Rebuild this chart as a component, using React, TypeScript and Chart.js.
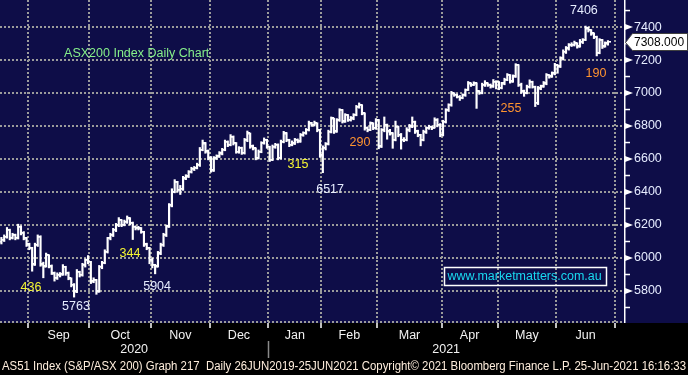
import React, { useEffect, useRef } from 'react';
import { Chart, registerables } from 'chart.js';

Chart.register(...registerables);

// ---- Data: ASX200 daily OHLC, 18 Aug 2020 .. 25 Jun 2021 (trading-day index) ----
const opens = [
  6100, 6112, 6128, 6168, 6122, 6138, 6122, 6188, 6152, 6118,
  6082, 6058, 5962, 6078, 6128, 5962, 5950, 6016, 5950, 5905,
  5879, 5895, 5902, 5946, 5909, 5875, 5839, 5798, 5915, 5899,
  5956, 5986, 5976, 5859, 5865, 5798, 5946, 5970, 6037, 6121,
  6138, 6172, 6198, 6228, 6202, 6218, 6238, 6212, 6188, 6182,
  6178, 6158, 6082, 6058, 5990, 5956, 5950, 6027, 6081, 6138,
  6192, 6318, 6402, 6458, 6415, 6418, 6481, 6495, 6522, 6542,
  6546, 6562, 6657, 6693, 6647, 6603, 6532, 6603, 6617, 6633,
  6657, 6704, 6687, 6734, 6697, 6643, 6667, 6637, 6714, 6754,
  6677, 6663, 6607, 6643, 6697, 6714, 6673, 6596, 6673, 6687,
  6607, 6704, 6754, 6714, 6687, 6693, 6714, 6708, 6744, 6758,
  6778, 6815, 6808, 6815, 6774, 6622, 6667, 6692, 6764, 6844,
  6768, 6834, 6895, 6828, 6865, 6838, 6844, 6869, 6915, 6925,
  6875, 6788, 6778, 6814, 6788, 6834, 6677, 6774, 6808, 6768,
  6754, 6717, 6794, 6748, 6717, 6717, 6774, 6798, 6824, 6768,
  6744, 6717, 6764, 6788, 6794, 6788, 6834, 6808, 6748, 6824,
  6895, 6929, 6996, 6990, 6976, 6970, 6986, 7020, 7057, 7051,
  7057, 7010, 7002, 7047, 7057, 7047, 7041, 7067, 7067, 7031,
  7057, 7081, 7107, 7071, 7101, 7168, 7051, 7010, 7000, 7037,
  7067, 7037, 6940, 7027, 7041, 7057, 7107, 7101, 7118, 7168,
  7162, 7208, 7249, 7269, 7289, 7293, 7299, 7283, 7309, 7323,
  7390, 7380, 7360, 7340, 7243, 7319, 7283, 7299,
];
const highs = [
  6125, 6140, 6185, 6175, 6150, 6145, 6205, 6195, 6160, 6125,
  6090, 6065, 6090, 6140, 6135, 5975, 6030, 6020, 5958, 5915,
  5910, 5912, 5960, 5950, 5915, 5880, 5845, 5930, 5920, 5968,
  5995, 6015, 5980, 5880, 5870, 5955, 5980, 6050, 6125, 6150,
  6180, 6210, 6245, 6232, 6230, 6255, 6245, 6218, 6195, 6192,
  6185, 6162, 6090, 6065, 6000, 5962, 6040, 6090, 6150, 6200,
  6330, 6420, 6475, 6465, 6440, 6495, 6505, 6530, 6550, 6555,
  6575, 6670, 6715, 6700, 6655, 6615, 6615, 6625, 6645, 6665,
  6715, 6710, 6748, 6740, 6700, 6675, 6672, 6725, 6770, 6758,
  6685, 6668, 6655, 6705, 6728, 6720, 6678, 6685, 6695, 6692,
  6715, 6768, 6760, 6720, 6710, 6725, 6722, 6755, 6765, 6785,
  6830, 6822, 6830, 6820, 6780, 6680, 6700, 6775, 6855, 6848,
  6845, 6905, 6900, 6875, 6870, 6858, 6875, 6925, 6940, 6930,
  6880, 6795, 6825, 6820, 6845, 6840, 6785, 6855, 6812, 6780,
  6760, 6830, 6800, 6755, 6730, 6790, 6810, 6855, 6830, 6775,
  6750, 6775, 6795, 6805, 6800, 6850, 6845, 6815, 6835, 6905,
  6935, 7010, 7002, 6995, 6985, 6995, 7025, 7070, 7062, 7068,
  7062, 7015, 7060, 7075, 7062, 7055, 7082, 7075, 7070, 7065,
  7090, 7118, 7112, 7110, 7178, 7172, 7060, 7018, 7048, 7080,
  7072, 7042, 7040, 7048, 7070, 7118, 7112, 7128, 7180, 7172,
  7220, 7262, 7282, 7300, 7305, 7315, 7305, 7325, 7330, 7406,
  7400, 7385, 7365, 7345, 7330, 7325, 7310, 7318,
];
const lows = [
  6085, 6100, 6120, 6110, 6115, 6110, 6115, 6140, 6110, 6070,
  6050, 5920, 5955, 6070, 5950, 5880, 5945, 5940, 5900, 5860,
  5870, 5885, 5895, 5895, 5868, 5825, 5763, 5790, 5885, 5890,
  5945, 5965, 5845, 5850, 5780, 5792, 5935, 5965, 6030, 6110,
  6130, 6160, 6190, 6190, 6195, 6210, 6200, 6112, 6170, 6170,
  6150, 6070, 6050, 5965, 5940, 5904, 5945, 6020, 6070, 6130,
  6185, 6310, 6395, 6400, 6385, 6410, 6475, 6488, 6515, 6530,
  6540, 6555, 6650, 6635, 6595, 6520, 6525, 6598, 6610, 6625,
  6650, 6675, 6680, 6685, 6635, 6635, 6628, 6630, 6705, 6665,
  6655, 6595, 6600, 6638, 6690, 6665, 6585, 6590, 6665, 6595,
  6600, 6698, 6705, 6675, 6680, 6688, 6698, 6702, 6738, 6750,
  6770, 6798, 6800, 6765, 6610, 6517, 6655, 6685, 6758, 6755,
  6762, 6828, 6818, 6822, 6828, 6830, 6838, 6862, 6908, 6868,
  6775, 6765, 6772, 6778, 6780, 6662, 6670, 6765, 6720, 6745,
  6665, 6710, 6735, 6660, 6705, 6710, 6765, 6790, 6755, 6735,
  6680, 6710, 6755, 6780, 6778, 6788, 6795, 6735, 6740, 6818,
  6888, 6920, 6980, 6970, 6955, 6965, 6980, 7015, 7040, 7045,
  6907, 6992, 6995, 7040, 7040, 7030, 7035, 7025, 7020, 7025,
  7050, 7075, 7060, 7065, 7095, 7040, 6998, 6980, 6995, 7030,
  7030, 6918, 6930, 7020, 7035, 7050, 7090, 7095, 7110, 7120,
  7155, 7200, 7240, 7260, 7282, 7285, 7272, 7278, 7300, 7318,
  7370, 7350, 7330, 7225, 7238, 7270, 7278, 7290,
];
const closes = [
  6110, 6130, 6170, 6120, 6140, 6120, 6190, 6150, 6120, 6080,
  6060, 5960, 6080, 6130, 5960, 5948, 6018, 5948, 5907, 5877,
  5897, 5900, 5948, 5907, 5877, 5837, 5796, 5917, 5897, 5958,
  5988, 5978, 5857, 5867, 5796, 5948, 5968, 6039, 6119, 6140,
  6170, 6200, 6230, 6200, 6220, 6240, 6210, 6190, 6180, 6180,
  6160, 6080, 6060, 5988, 5958, 5948, 6029, 6079, 6140, 6190,
  6320, 6400, 6460, 6413, 6420, 6483, 6493, 6524, 6540, 6544,
  6564, 6655, 6695, 6645, 6605, 6530, 6605, 6615, 6635, 6655,
  6706, 6685, 6736, 6695, 6645, 6665, 6635, 6716, 6756, 6675,
  6665, 6605, 6645, 6695, 6716, 6675, 6594, 6675, 6685, 6605,
  6706, 6756, 6716, 6685, 6695, 6716, 6706, 6746, 6756, 6776,
  6817, 6806, 6817, 6776, 6620, 6665, 6690, 6766, 6846, 6766,
  6836, 6897, 6826, 6867, 6836, 6846, 6867, 6917, 6927, 6877,
  6786, 6776, 6816, 6786, 6836, 6675, 6776, 6806, 6766, 6756,
  6715, 6796, 6746, 6715, 6715, 6776, 6796, 6826, 6766, 6746,
  6715, 6766, 6786, 6796, 6786, 6836, 6806, 6746, 6826, 6897,
  6927, 6998, 6988, 6978, 6968, 6988, 7018, 7059, 7049, 7059,
  7008, 7000, 7049, 7059, 7049, 7039, 7069, 7069, 7029, 7059,
  7079, 7109, 7069, 7099, 7170, 7049, 7008, 6998, 7039, 7069,
  7039, 6938, 7029, 7039, 7059, 7109, 7099, 7120, 7170, 7160,
  7210, 7251, 7271, 7291, 7291, 7301, 7281, 7311, 7321, 7392,
  7382, 7362, 7342, 7241, 7321, 7281, 7301, 7308,
];

// first trading-day index of each month: Sep 2020 .. Jul 2021
const monthStartIdx = [10, 32, 54, 75, 96, 115, 135, 158, 178, 199, 220];
const monthLabels = ['Sep', 'Oct', 'Nov', 'Dec', 'Jan', 'Feb', 'Mar', 'Apr', 'May', 'Jun'];
const yearLabels = ['2020', '2021'];
const yearStartIdx = 96; // Jan 2021
const yTickValues = [5700, 5800, 5900, 6000, 6100, 6200, 6300, 6400, 6500, 6600, 6700, 6800, 6900, 7000, 7100, 7200, 7300, 7400, 7500];
const yLabelStep = 200;
const Y_MIN = 5606;
const Y_MAX = 7564;
const X_MIN = -0.5;
const X_MAX = 222.75;

const chartTitle = 'ASX200 Index Daily Chart';
const website = 'www.marketmatters.com.au';
const footer = 'AS51 Index (S&P/ASX 200) Graph 217  Daily 26JUN2019-25JUN2021 Copyright\u00A9 2021 Bloomberg Finance L.P. 25-Jun-2021 16:16:33';

// annotation texts placed in data space (trading-day index, index level)
const annotations = [
  { text: chartTitle, idx: 48.4, value: 7242, color: '#86f08a' },
  { text: '7406', idx: 208.4, value: 7503, color: '#e6ecff' },
  { text: '190', idx: 212.7, value: 7121, color: '#ff9430' },
  { text: '255', idx: 182.3, value: 6909, color: '#ff9430' },
  { text: '290', idx: 128.3, value: 6697, color: '#ff9430' },
  { text: '315', idx: 106.1, value: 6564, color: '#f5f532' },
  { text: '6517', idx: 117.6, value: 6418, color: '#e6ecff' },
  { text: '344', idx: 46.0, value: 6024, color: '#f5f532' },
  { text: '436', idx: 10.6, value: 5818, color: '#f5f532' },
  { text: '5763', idx: 26.7, value: 5703, color: '#e6ecff' },
  { text: '5904', idx: 55.7, value: 5830, color: '#e6ecff' },
];
const websiteAt = { idx: 187.2, value: 5891 };

const NAVY = '#0e0d48';
const GRID = '#9b9b9b';
const FONT = '"Liberation Sans", Arial, Helvetica, sans-serif';
const CLEAR = 'rgba(0,0,0,0)';

export default function App() {
  const ref = useRef<HTMLCanvasElement>(null);

  useEffect(() => {
    document.body.style.margin = '0';
    document.body.style.background = '#000';
    const canvas = ref.current;
    if (!canvas) return;

    const boundaries = monthStartIdx.map((v) => v - 0.5);
    const centers = monthLabels.map((_, k) => (boundaries[k] + boundaries[k + 1]) / 2);
    const boundarySet = new Set(boundaries);
    const centerLabel = new Map<number, string>(centers.map((c, k) => [c, monthLabels[k]]));
    const xTickValues = [...boundaries, ...centers].sort((a, b) => a - b);

    const mkTick = (left: boolean) => {
      const c = document.createElement('canvas');
      c.width = 6;
      c.height = 2;
      const g = c.getContext('2d')!;
      const x0 = left ? 0 : 3;
      g.fillStyle = 'rgba(255,255,255,1)';
      g.fillRect(x0, 0, 3, 1);
      g.fillStyle = 'rgba(255,255,255,0.5)';
      g.fillRect(x0, 1, 3, 1);
      return c;
    };
    const openImg = mkTick(true);
    const closeImg = mkTick(false);

    const overlay = {
      id: 'overlay',
      beforeDraw(chart: any) {
        const { ctx, chartArea, width, height } = chart;
        ctx.save();
        ctx.fillStyle = '#000';
        ctx.fillRect(0, 0, width, height);
        ctx.fillStyle = NAVY;
        ctx.fillRect(0, 0, width, chartArea.bottom);
        ctx.restore();
      },
      afterDraw(chart: any) {
        const { ctx, chartArea: a, scales, width } = chart;
        const xs = scales.x;
        const ys = scales.y;
        ctx.save();
        // dotted bottom edge
        ctx.strokeStyle = GRID;
        ctx.lineWidth = 2;
        ctx.setLineDash([2, 2]);
        ctx.beginPath();
        ctx.moveTo(a.left, a.bottom - 1);
        ctx.lineTo(a.right, a.bottom - 1);
        ctx.stroke();
        ctx.setLineDash([]);
        // right axis line
        ctx.strokeStyle = '#ffffff';
        ctx.lineWidth = 1.5;
        ctx.beginPath();
        ctx.moveTo(a.right + 0.75, 0);
        ctx.lineTo(a.right + 0.75, a.bottom);
        ctx.stroke();
        // y tick marks
        ctx.fillStyle = '#ffffff';
        for (const v of yTickValues) {
          const py = ys.getPixelForValue(v);
          if (v % yLabelStep === 0) {
            ctx.beginPath();
            ctx.moveTo(a.right + 1, py - 3);
            ctx.lineTo(a.right + 9, py);
            ctx.lineTo(a.right + 1, py + 3);
            ctx.closePath();
            ctx.fill();
          } else {
            ctx.beginPath();
            ctx.moveTo(a.right + 1, py);
            ctx.lineTo(a.right + 6, py);
            ctx.stroke();
          }
        }
        // year row
        ctx.font = `12.5px ${FONT}`;
        ctx.textBaseline = 'middle';
        ctx.textAlign = 'center';
        ctx.fillStyle = '#f2f2f2';
        const sepX = xs.getPixelForValue(yearStartIdx - 0.5);
        const y2020 = (xs.getPixelForValue(X_MIN) + sepX) / 2;
        const y2021 = (sepX + xs.getPixelForValue(X_MAX)) / 2;
        ctx.fillText(yearLabels[0], y2020, 350);
        ctx.fillText(yearLabels[1], y2021, 350);
        ctx.strokeStyle = '#8a8a8a';
        ctx.lineWidth = 1.5;
        ctx.beginPath();
        ctx.moveTo(Math.round(sepX) + 0.5, 341);
        ctx.lineTo(Math.round(sepX) + 0.5, 358);
        ctx.stroke();
        // footer
        ctx.textAlign = 'left';
        ctx.fillStyle = '#ffeedd';
        const fw = ctx.measureText(footer).width;
        ctx.save();
        ctx.translate(2, 367);
        ctx.scale(684 / fw, 1);
        ctx.fillText(footer, 0, 0);
        ctx.restore();
        // annotations
        ctx.textAlign = 'center';
        for (const an of annotations) {
          ctx.fillStyle = an.color;
          ctx.fillText(an.text, xs.getPixelForValue(an.idx), ys.getPixelForValue(an.value));
        }
        // website box
        const wx = xs.getPixelForValue(websiteAt.idx);
        const wy = ys.getPixelForValue(websiteAt.value);
        const ww = ctx.measureText(website).width;
        ctx.strokeStyle = '#ffffff';
        ctx.lineWidth = 1.5;
        ctx.strokeRect(Math.round(wx - ww / 2 - 4) + 0.5, Math.round(wy - 9) + 0.5, Math.round(ww + 8), 18);
        ctx.fillStyle = '#19d9f0';
        ctx.fillText(website, wx, wy + 0.5);
        // last price box
        const last = closes[closes.length - 1];
        const py = Math.round(ys.getPixelForValue(last));
        const bx = a.right + 1;
        ctx.fillStyle = '#ffffff';
        ctx.strokeStyle = '#404040';
        ctx.lineWidth = 1;
        ctx.beginPath();
        ctx.moveTo(bx + 0.5, py + 0.5);
        ctx.lineTo(bx + 7.5, py - 8.5);
        ctx.lineTo(width - 0.5, py - 8.5);
        ctx.lineTo(width - 0.5, py + 8.5);
        ctx.lineTo(bx + 7.5, py + 8.5);
        ctx.closePath();
        ctx.fill();
        ctx.stroke();
        ctx.fillStyle = '#000000';
        ctx.textAlign = 'left';
        ctx.font = `12px ${FONT}`;
        ctx.fillText(last.toFixed(3), bx + 9, py + 0.5);
        ctx.restore();
      },
    };

    const rangeData = highs.map((h, i) => ({ x: i, y: [lows[i], h] }));
    const openData = opens.map((o, i) => ({ x: i, y: o }));
    const closeData = closes.map((c, i) => ({ x: i, y: c }));

    const chart = new Chart(canvas, {
      type: 'bar',
      data: {
        datasets: [
          {
            type: 'bar',
            data: rangeData as any,
            backgroundColor: '#ffffff',
            borderWidth: 0,
            barThickness: 1.5,
            grouped: false,
          } as any,
          {
            type: 'line',
            data: openData as any,
            showLine: false,
            pointStyle: openImg as any,
            pointRadius: 2,
            borderWidth: 0,
          } as any,
          {
            type: 'line',
            data: closeData as any,
            showLine: false,
            pointStyle: closeImg as any,
            pointRadius: 2,
            borderWidth: 0,
          } as any,
        ],
      },
      options: {
        responsive: false,
        devicePixelRatio: 1,
        animation: false,
        events: [],
        layout: { autoPadding: false, padding: { left: 0, right: 0, top: 0, bottom: 32 } },
        plugins: {
          legend: { display: false },
          tooltip: { enabled: false },
          title: { display: false },
        },
        scales: {
          x: {
            type: 'linear',
            min: X_MIN,
            max: X_MAX,
            offset: false,
            afterBuildTicks: (s: any) => {
              s.ticks = xTickValues.map((v) => ({ value: v }));
            },
            afterFit: (s: any) => {
              s.height = 20;
              s.paddingLeft = 0;
              s.paddingRight = 0;
            },
            grid: {
              offset: false,
              color: (c: any) => (c.tick && boundarySet.has(c.tick.value) ? GRID : CLEAR),
              lineWidth: 2,
              tickColor: (c: any) => (c.tick && boundarySet.has(c.tick.value) ? '#ffffff' : CLEAR),
              tickLength: 5,
              tickWidth: 1.5,
            },
            border: { display: false, dash: [2, 2] },
            ticks: {
              autoSkip: false,
              maxRotation: 0,
              minRotation: 0,
              padding: 0,
              color: '#f2f2f2',
              font: { size: 12.5, family: FONT },
              callback: (v: any) => centerLabel.get(v) ?? '',
            },
          },
          y: {
            type: 'linear',
            position: 'right',
            min: Y_MIN,
            max: Y_MAX,
            afterBuildTicks: (s: any) => {
              s.ticks = yTickValues.map((v) => ({ value: v }));
            },
            afterFit: (s: any) => {
              s.width = 64;
              s.paddingTop = 0;
              s.paddingBottom = 0;
            },
            grid: {
              color: (c: any) => (c.tick && c.tick.value % yLabelStep === 0 ? GRID : CLEAR),
              lineWidth: 2,
              drawTicks: false,
            },
            border: { display: false, dash: [2, 2] },
            ticks: {
              autoSkip: false,
              padding: 10,
              color: '#e6ecff',
              font: { size: 12.5, family: FONT },
              callback: (v: any) => (Number(v) % yLabelStep === 0 ? String(v) : ''),
            },
          },
        },
      } as any,
      plugins: [overlay],
    });

    return () => chart.destroy();
  }, []);

  return (
    <div style={{ position: 'absolute', left: 0, top: 0, width: 688, height: 375, background: '#000' }}>
      <canvas ref={ref} width={688} height={375} style={{ display: 'block', width: 688, height: 375 }} />
    </div>
  );
}
